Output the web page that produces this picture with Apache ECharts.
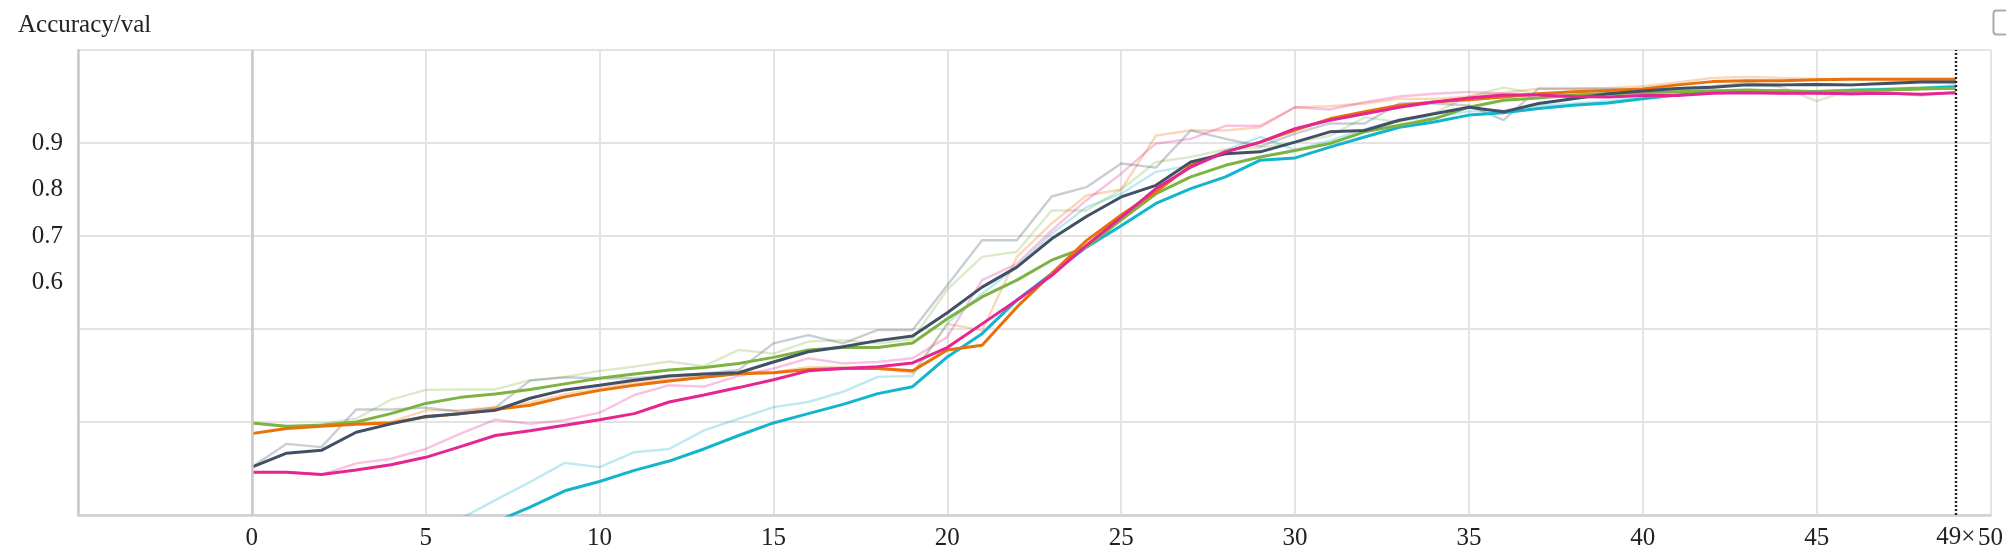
<!DOCTYPE html>
<html>
<head>
<meta charset="utf-8">
<script src="https://cdn.jsdelivr.net/npm/echarts@6/dist/echarts.min.js"></script>
<style>
html,body{margin:0;padding:0;background:#fff;}
#chart{width:2006px;height:556px;}
</style>
</head>
<body>
<div id="chart"></div>
<script>
// ---- data (step index 0..49) ----
const steps = Array.from({length: 50}, (_, i) => i);
const yTickLabels = ['0.6', '0.7', '0.8', '0.9'];

const greenSmooth = [0.298,0.291,0.293,0.300,0.318,0.340,0.353,0.360,0.370,0.382,0.394,0.403,0.412,0.417,0.426,0.439,0.455,0.460,0.460,0.470,0.522,0.569,0.605,0.648,0.676,0.735,0.791,0.827,0.852,0.870,0.884,0.899,0.924,0.938,0.952,0.977,0.992,0.997,1.003,1.006,1.008,1.010,1.012,1.014,1.012,1.010,1.012,1.014,1.016,1.018];
const greenRaw    = [0.298,0.289,0.296,0.307,0.348,0.369,0.370,0.370,0.390,0.397,0.410,0.419,0.430,0.420,0.455,0.447,0.473,0.476,0.469,0.478,0.585,0.655,0.666,0.755,0.755,0.800,0.859,0.870,0.886,0.890,0.902,0.915,0.955,0.945,0.965,1.000,1.019,1.005,1.010,1.008,1.010,1.012,1.018,1.030,1.020,0.990,1.015,1.016,1.020,1.020];

const orangeSmooth = [0.275,0.286,0.291,0.295,0.298,0.311,0.318,0.327,0.336,0.354,0.368,0.379,0.388,0.396,0.404,0.406,0.413,0.415,0.415,0.410,0.455,0.465,0.547,0.619,0.690,0.745,0.795,0.852,0.881,0.902,0.928,0.952,0.967,0.981,0.988,0.993,0.999,1.006,1.010,1.013,1.016,1.025,1.032,1.034,1.034,1.036,1.037,1.037,1.037,1.037];
const orangeRaw    = [0.275,0.288,0.292,0.297,0.300,0.325,0.325,0.332,0.342,0.360,0.372,0.385,0.392,0.400,0.408,0.407,0.418,0.418,0.416,0.405,0.511,0.497,0.655,0.727,0.787,0.800,0.916,0.927,0.927,0.934,0.977,0.979,0.985,0.995,0.995,1.000,1.008,1.017,1.017,1.018,1.022,1.030,1.040,1.042,1.040,1.038,1.038,1.037,1.037,1.037];

const graySmooth = [0.203,0.233,0.239,0.278,0.296,0.312,0.318,0.325,0.351,0.369,0.379,0.390,0.399,0.403,0.406,0.429,0.451,0.462,0.475,0.485,0.535,0.590,0.633,0.694,0.742,0.784,0.809,0.859,0.877,0.881,0.902,0.924,0.927,0.949,0.963,0.977,0.967,0.985,0.995,1.006,1.012,1.017,1.020,1.025,1.025,1.026,1.025,1.028,1.031,1.031];
const grayRaw    = [0.203,0.253,0.246,0.327,0.327,0.331,0.322,0.331,0.389,0.396,0.394,0.394,0.400,0.404,0.412,0.469,0.487,0.469,0.498,0.498,0.594,0.691,0.691,0.785,0.805,0.856,0.847,0.927,0.909,0.893,0.920,0.942,0.942,0.985,0.985,0.981,0.949,1.017,1.017,1.017,1.015,1.018,1.022,1.028,1.025,1.027,1.024,1.030,1.033,1.031];

const pinkSmooth = [0.192,0.192,0.187,0.197,0.208,0.224,0.247,0.271,0.281,0.293,0.305,0.318,0.343,0.358,0.374,0.391,0.410,0.415,0.419,0.427,0.460,0.511,0.562,0.615,0.680,0.740,0.802,0.848,0.881,0.902,0.931,0.949,0.963,0.977,0.988,0.997,1.003,1.003,1.000,0.999,1.002,1.002,1.007,1.008,1.007,1.007,1.006,1.007,1.005,1.008];
const pinkRaw    = [0.192,0.192,0.187,0.211,0.221,0.242,0.275,0.305,0.296,0.304,0.320,0.358,0.379,0.376,0.399,0.415,0.437,0.426,0.429,0.437,0.483,0.605,0.640,0.712,0.777,0.834,0.899,0.909,0.937,0.937,0.977,0.972,0.988,1.000,1.006,1.010,1.006,1.004,0.998,1.000,1.003,1.002,1.010,1.009,1.006,1.008,1.004,1.008,1.002,1.010];

const cyanSmooth = [null,null,null,null,null,null,0.055,0.085,0.117,0.152,0.172,0.196,0.216,0.242,0.271,0.298,0.318,0.338,0.361,0.376,0.440,0.490,0.562,0.619,0.676,0.722,0.770,0.802,0.827,0.863,0.868,0.891,0.913,0.934,0.945,0.960,0.965,0.974,0.981,0.986,0.995,1.003,1.010,1.012,1.012,1.011,1.013,1.015,1.017,1.021];
const cyanRaw    = [null,null,null,null,null,0.050,0.092,0.132,0.171,0.212,0.203,0.235,0.242,0.282,0.307,0.332,0.343,0.365,0.397,0.399,0.512,0.576,0.633,0.705,0.762,0.791,0.838,0.852,0.884,0.913,0.885,0.905,0.930,0.950,0.955,0.968,0.970,0.980,0.985,0.990,1.000,1.008,1.014,1.012,1.013,1.011,1.015,1.017,1.019,1.024];

const runs = [
  {name: 'cyan',   color: '#12b5cb', smooth: cyanSmooth,   raw: cyanRaw},
  {name: 'green',  color: '#7cb342', smooth: greenSmooth,  raw: greenRaw},
  {name: 'orange', color: '#e8710a', smooth: orangeSmooth, raw: orangeRaw},
  {name: 'gray',   color: '#425066', smooth: graySmooth,   raw: grayRaw},
  {name: 'pink',   color: '#e52592', smooth: pinkSmooth,   raw: pinkRaw}
];

const FONT = '"Liberation Serif", "Times New Roman", serif';
const pair = arr => steps.map(i => [i, arr[i]]);

const series = [];
runs.forEach(r => {
  series.push({
    name: r.name + ' raw', type: 'line', data: pair(r.raw), showSymbol: false,
    lineStyle: {color: r.color, width: 2.4, opacity: 0.28}, itemStyle: {color: r.color},
    silent: true, z: 2, clip: true
  });
});
runs.forEach(r => {
  series.push({
    name: r.name, type: 'line', data: pair(r.smooth), showSymbol: false,
    lineStyle: {color: r.color, width: 3}, itemStyle: {color: r.color},
    silent: true, z: 3, clip: true
  });
});
// zero line and current-step cursor
series.push({
  type: 'line', data: [], silent: true, z: 1,
  markLine: {
    silent: true, symbol: 'none', animation: false,
    lineStyle: {color: '#c9c9c9', width: 2.5, type: 'solid'},
    label: {show: false},
    data: [{xAxis: 0}]
  }
});
series.push({
  type: 'line', data: [], silent: true, z: 5,
  markLine: {
    silent: true, symbol: 'none', animation: false,
    lineStyle: {color: '#222', width: 2.4, type: [2, 2]},
    label: {show: true, position: 'start', formatter: '49×', fontFamily: FONT, fontSize: 25, color: '#222', distance: 10},
    data: [{xAxis: 49}]
  }
});

const chart = echarts.init(document.getElementById('chart'));
chart.setOption({
  animation: false,
  backgroundColor: '#fff',
  title: {
    text: 'Accuracy/val', left: 13, top: 8,
    textStyle: {fontFamily: FONT, fontSize: 25, fontWeight: 'normal', color: '#222'}
  },
  graphic: [{
    type: 'rect', right: -6, top: 8, shape: {width: 16, height: 24, r: 3},
    style: {fill: 'none', stroke: '#aaa', lineWidth: 2}
  }],
  grid: {left: 78, right: 15, top: 50, bottom: 41, containLabel: false},
  xAxis: {
    type: 'value', min: -5, max: 50, interval: 5,
    axisLine: {show: true, onZero: false, lineStyle: {color: '#d0d0d0', width: 2.5}},
    axisTick: {show: false},
    splitLine: {show: true, lineStyle: {color: '#e3e3e3', width: 2}},
    axisLabel: {
      fontFamily: FONT, fontSize: 25, color: '#222', margin: 11,
      formatter: v => (v < 0 ? '' : String(v))
    }
  },
  yAxis: [{
    type: 'value', min: 0.1, max: 1.1, interval: 0.1,
    axisLine: {show: true, onZero: false, lineStyle: {color: '#c9c9c9', width: 2.5}},
    axisTick: {show: false},
    splitLine: {show: false},
    axisLabel: {
      fontFamily: FONT, fontSize: 25, color: '#222', margin: 15,
      formatter: v => { const s = v.toFixed(1); return yTickLabels.includes(s) ? s : ''; }
    }
  }, {
    type: 'value', min: 0.1, max: 1.1, interval: 0.2, position: 'left',
    axisLine: {show: false}, axisTick: {show: false}, axisLabel: {show: false},
    splitLine: {show: true, lineStyle: {color: '#e3e3e3', width: 2}}
  }],
  series: series
});
</script>
</body>
</html>
